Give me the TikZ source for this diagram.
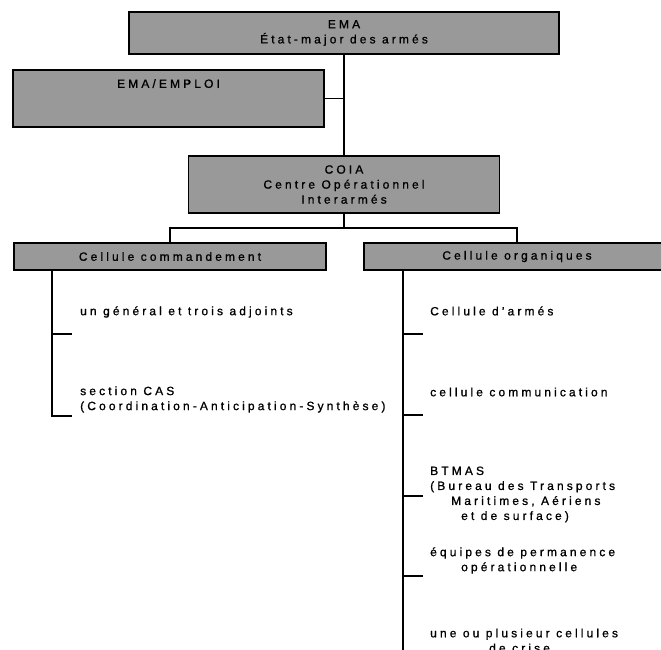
\documentclass[tikz,border=0pt]{standalone}
\usepackage{fontspec}
\setmainfont{Liberation Sans}[LetterSpace=26, FakeBold=1]
\usetikzlibrary{positioning}

\begin{document}
\begin{tikzpicture}[x=1pt, y=-1pt,
    every node/.style={font=\fontsize{12}{15}\selectfont, inner sep=0pt},
    box/.style={draw, line width=1.2pt, fill=black!40, align=center},
    item/.style={anchor=west, align=left},
    link/.style={line width=1.2pt}]
    \useasboundingbox (0,0) rectangle (661,650);
    \clip (0,0) rectangle (661,650);

    % Boxes
    \node[box, minimum width=430pt, minimum height=42pt] (ema) at (344,33) {EMA\\État-major des armés};
    \node[box, minimum width=311pt, minimum height=57pt] (emploi) at (168.5,98.5) {EMA/EMPLOI\\~\\~};
    \node[box, minimum width=311pt, minimum height=57pt] (coia) at (344,184.5) {COIA\\Centre Opérationnel\\Interarmés};
    \node[box, minimum width=312pt, minimum height=27pt] (cmd) at (170,256.5) {Cellule commandement};
    \node[box, minimum width=306pt, minimum height=27pt] (org) at (517,256.5) {Cellule organiques};

    % Items
    \node[item] (general) at (80,312) {un général et trois adjoints};
    \node[item] (cas) at (80,399.5) {section CAS\\(Coordination-Anticipation-Synthèse)};
    \node[item] (armes) at (430,311) {Cellule d'armés};
    \node[item] (comm) at (430,392) {cellule communication};
    \node[item] (btmas) at (430,494.5) {BTMAS\\(Bureau des Transports\\\hspace*{21pt}Maritimes, Aériens\\\hspace*{31pt}et de surface)};
    \node[item] (equipes) at (430,560.5) {équipes de permanence\\\hspace*{31pt}opérationnelle};
    \node[item] (crise) at (430,640.5) {une ou plusieur cellules\\\hspace*{59pt}de crise};

    % Points on the lines
    \coordinate (split) at (344,228);
    \coordinate (c1) at (52,334);
    \coordinate (c2) at (52,416);
    \foreach \y [count=\i] in {334,415,496,576}
        \coordinate (o\i) at (403,\y);
    \coordinate (oend) at (403,660);

    % Edges
    \draw[link] (ema) -- (coia);
    \draw[link] (emploi.east) -- (emploi.east -| ema.south);
    \draw[link] (coia) -- (split);
    \draw[link] (cmd.north) |- (split) -| (org.north);

    \draw[link] (cmd.south -| c1) -- (c2) -- ++(20,0);
    \draw[link] (c1) -- ++(20,0);

    \draw[link] (org.south -| o1) -- (oend);
    \foreach \i in {1,...,4}
        \draw[link] (o\i) -- ++(20,0);

\end{tikzpicture}
\end{document}
